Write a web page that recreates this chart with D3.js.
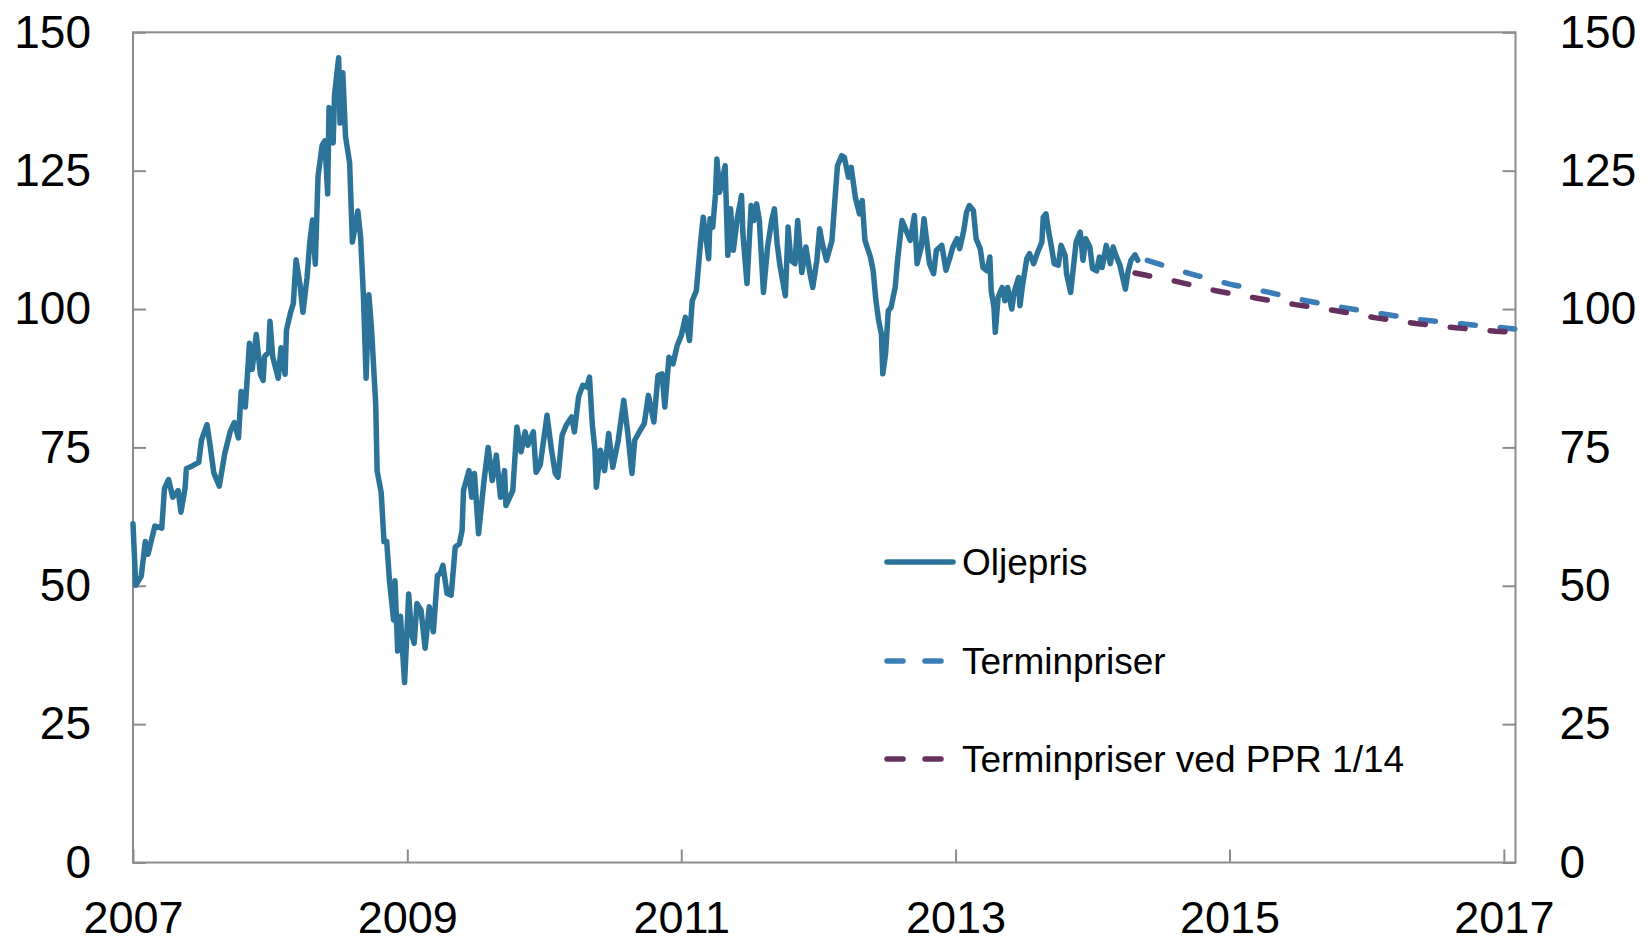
<!DOCTYPE html>
<html>
<head>
<meta charset="utf-8">
<script src="https://cdn.jsdelivr.net/npm/d3@7"></script>
<style>
  html, body { margin: 0; padding: 0; background: #fff; }
  svg { display: block; font-family: Arial, "Liberation Sans", sans-serif; }
</style>
</head>
<body>
<svg id="chart"></svg>
<script>
// oil price (USD per barrel), decimal years
const oilYears = [
  2007.00, 2007.02, 2007.06, 2007.09, 2007.11, 2007.14, 2007.16, 2007.21, 2007.23, 2007.26,
  2007.29, 2007.33, 2007.35, 2007.38, 2007.39, 2007.43, 2007.48, 2007.50, 2007.54, 2007.56,
  2007.59, 2007.63, 2007.67, 2007.71, 2007.74, 2007.77, 2007.79, 2007.82, 2007.84, 2007.85,
  2007.87, 2007.90, 2007.93, 2007.95, 2007.96, 2007.99, 2008.00, 2008.02, 2008.06, 2008.08,
  2008.11, 2008.12, 2008.15, 2008.17, 2008.19, 2008.22, 2008.24, 2008.27, 2008.29, 2008.31,
  2008.33, 2008.35, 2008.38, 2008.40, 2008.42, 2008.43, 2008.46, 2008.47, 2008.50, 2008.51,
  2008.53, 2008.55, 2008.58, 2008.60, 2008.64, 2008.66, 2008.68, 2008.70, 2008.72, 2008.74,
  2008.77, 2008.78, 2008.81, 2008.83, 2008.85, 2008.87, 2008.90, 2008.91, 2008.93, 2008.95,
  2008.98, 2009.01, 2009.03, 2009.05, 2009.07, 2009.10, 2009.13, 2009.16, 2009.19, 2009.22,
  2009.24, 2009.26, 2009.29, 2009.32, 2009.35, 2009.38, 2009.40, 2009.41, 2009.45, 2009.47,
  2009.49, 2009.52, 2009.56, 2009.59, 2009.62, 2009.65, 2009.68, 2009.71, 2009.72, 2009.77,
  2009.80, 2009.83, 2009.86, 2009.88, 2009.92, 2009.94, 2009.97, 2010.02, 2010.05, 2010.08,
  2010.10, 2010.13, 2010.16, 2010.20, 2010.22, 2010.25, 2010.28, 2010.31, 2010.33, 2010.35,
  2010.37, 2010.38, 2010.41, 2010.44, 2010.47, 2010.50, 2010.54, 2010.58, 2010.61, 2010.64,
  2010.66, 2010.70, 2010.73, 2010.76, 2010.80, 2010.83, 2010.86, 2010.88, 2010.91, 2010.94,
  2010.97, 2011.00, 2011.03, 2011.06, 2011.08, 2011.11, 2011.14, 2011.16, 2011.18, 2011.20,
  2011.21, 2011.23, 2011.25, 2011.26, 2011.28, 2011.32, 2011.34, 2011.36, 2011.38, 2011.41,
  2011.44, 2011.45, 2011.48, 2011.51, 2011.53, 2011.55, 2011.57, 2011.60, 2011.63, 2011.66,
  2011.68, 2011.70, 2011.72, 2011.76, 2011.78, 2011.80, 2011.83, 2011.85, 2011.88, 2011.91,
  2011.94, 2011.96, 2011.99, 2012.01, 2012.03, 2012.06, 2012.10, 2012.12, 2012.14, 2012.17,
  2012.19, 2012.22, 2012.24, 2012.27, 2012.30, 2012.32, 2012.34, 2012.38, 2012.40, 2012.42,
  2012.44, 2012.46, 2012.47, 2012.49, 2012.51, 2012.53, 2012.56, 2012.58, 2012.61, 2012.64,
  2012.67, 2012.70, 2012.72, 2012.75, 2012.77, 2012.81, 2012.84, 2012.86, 2012.90, 2012.93,
  2012.96, 2012.98, 2013.01, 2013.03, 2013.06, 2013.08, 2013.10, 2013.13, 2013.15, 2013.18,
  2013.20, 2013.23, 2013.25, 2013.26, 2013.28, 2013.29, 2013.31, 2013.34, 2013.36, 2013.38,
  2013.41, 2013.43, 2013.46, 2013.47, 2013.49, 2013.52, 2013.54, 2013.57, 2013.60, 2013.63,
  2013.64, 2013.66, 2013.68, 2013.70, 2013.72, 2013.75, 2013.77, 2013.80, 2013.81, 2013.84,
  2013.86, 2013.88, 2013.91, 2013.93, 2013.95, 2013.98, 2014.00, 2014.03, 2014.05, 2014.07,
  2014.10, 2014.13, 2014.15, 2014.17, 2014.20, 2014.22, 2014.24, 2014.26, 2014.28, 2014.31,
  2014.33
];
const oilPrices = [
  61.2, 50.1, 51.7, 58.0, 55.7, 58.8, 60.8, 60.4, 67.6, 69.2,
  66.0, 67.2, 63.3, 67.6, 71.2, 71.6, 72.3, 76.3, 79.1, 75.9,
  70.4, 68.0, 73.9, 77.9, 79.5, 76.7, 85.1, 82.3, 89.8, 93.8,
  89.1, 95.4, 88.2, 87.1, 91.4, 92.2, 97.8, 91.4, 87.5, 93.0,
  88.2, 96.2, 99.4, 101.0, 108.9, 104.2, 99.4, 105.7, 112.1, 116.1,
  108.1, 124.0, 129.6, 130.4, 120.8, 136.4, 130.0, 138.7, 145.4, 133.6,
  142.7, 131.2, 126.4, 112.1, 117.7, 112.9, 102.6, 87.5, 102.6, 96.2,
  82.7, 70.8, 66.8, 58.0, 58.0, 50.9, 43.8, 50.9, 38.2, 44.5,
  32.5, 48.5, 41.4, 39.6, 46.8, 45.6, 38.7, 46.2, 41.7, 51.9,
  52.2, 53.7, 48.6, 48.3, 57.0, 57.6, 60.0, 67.2, 70.8, 66.0,
  70.3, 59.4, 69.0, 75.0, 69.0, 73.6, 66.0, 70.8, 64.5, 67.2,
  78.7, 74.2, 77.8, 75.4, 77.8, 70.5, 71.8, 80.8, 75.0, 70.3,
  69.6, 77.2, 79.0, 80.5, 77.8, 84.1, 86.2, 85.9, 87.7, 79.3,
  74.5, 67.8, 74.5, 70.8, 77.5, 71.4, 76.3, 83.5, 77.5, 70.3,
  76.3, 78.1, 79.3, 84.4, 79.6, 88.0, 88.3, 82.3, 91.3, 90.1,
  93.4, 95.2, 98.5, 94.3, 101.5, 103.3, 111.8, 116.6, 113.0, 109.1,
  116.3, 114.8, 120.8, 127.1, 121.1, 125.9, 109.7, 118.1, 110.6, 116.6,
  120.5, 113.6, 104.6, 118.7, 116.0, 119.0, 116.0, 103.0, 111.2, 116.0,
  118.1, 111.8, 107.9, 102.4, 114.8, 108.8, 108.2, 116.0, 106.6, 111.2,
  106.4, 103.9, 108.8, 114.5, 111.8, 108.8, 112.4, 119.3, 125.9, 127.7,
  127.4, 123.8, 125.6, 120.2, 117.2, 119.6, 112.4, 109.4, 106.9, 101.5,
  97.9, 95.5, 88.3, 91.9, 99.7, 100.3, 103.9, 109.4, 116.0, 114.2,
  112.4, 116.9, 108.2, 111.2, 116.3, 108.2, 106.4, 110.6, 111.5, 107.0,
  109.4, 111.2, 112.7, 110.9, 114.2, 117.5, 118.7, 117.8, 112.7, 110.9,
  107.5, 106.9, 109.4, 103.3, 100.3, 95.8, 102.1, 103.9, 101.5, 103.9,
  100.0, 103.3, 105.7, 100.6, 104.5, 109.1, 110.0, 108.2, 110.3, 112.1,
  116.6, 117.2, 113.9, 111.2, 108.2, 107.9, 111.5, 109.7, 106.4, 103.0,
  107.5, 112.1, 113.9, 108.8, 112.7, 111.2, 107.3, 106.9, 109.4, 107.5,
  111.5, 108.2, 111.2, 109.7, 107.9, 105.7, 103.6, 106.9, 108.8, 109.8,
  108.8
];

// forward prices now
const futYears  = [2014.40, 2014.71, 2015.00, 2015.29, 2015.56, 2015.82, 2016.12, 2016.41, 2016.70, 2017.08];
const futPrices = [108.8, 106.4, 104.5, 103.0, 101.5, 100.3, 99.1, 98.0, 97.3, 96.4];

// forward prices at PPR 1/14
const pprYears  = [2014.31, 2014.61, 2014.90, 2015.19, 2015.48, 2015.78, 2016.07, 2016.36, 2016.65, 2016.94, 2017.08];
const pprPrices = [106.5, 105.0, 103.3, 102.0, 100.8, 99.7, 98.4, 97.4, 96.6, 96.0, 95.8];

const yTicks = [0, 25, 50, 75, 100, 125, 150];
const xTickYears = [2007, 2009, 2011, 2013, 2015, 2017];
const legendLabels = ['Oljepris', 'Terminpriser', 'Terminpriser ved PPR 1/14'];

// layout
const W = 1652, H = 942;
const plotL = 133, plotR = 1515.5, plotT = 32.3, plotB = 862.5;
const colOil = '#2b7398', colFut = '#3a7db7', colPpr = '#66305f';
const axisCol = '#8c8c8c';

const toDate = t => {
  const yr = Math.floor(t);
  const s = Date.UTC(yr, 0, 1), e = Date.UTC(yr + 1, 0, 1);
  return new Date(s + (t - yr) * (e - s));
};

const svg = d3.select('#chart').attr('width', W).attr('height', H);

const x = d3.scaleUtc().domain([toDate(2007), toDate(2017.085)]).range([plotL, plotR]);
const y = d3.scaleLinear().domain([0, 150]).range([plotB, plotT]);

const series = (ys, vs) => ys.map((t, i) => ({ date: toDate(t), v: vs[i] }));
const line = d3.line().x(d => x(d.date)).y(d => y(d.v));

// frame
svg.append('rect')
  .attr('x', plotL).attr('y', plotT)
  .attr('width', plotR - plotL).attr('height', plotB - plotT)
  .attr('fill', 'none').attr('stroke', axisCol).attr('stroke-width', 2);

// axes
const styleAxis = (g, size) => {
  g.select('.domain').remove();
  g.selectAll('.tick line').attr('stroke', axisCol).attr('stroke-width', 2);
  g.selectAll('.tick text').attr('fill', '#000').style('font-size', size + 'px')
    .style('font-family', 'Arial, "Liberation Sans", sans-serif');
};

svg.append('g')
  .attr('transform', `translate(${plotL},0)`)
  .call(d3.axisLeft(y).tickValues(yTicks).tickSizeInner(-13).tickSizeOuter(0).tickPadding(42))
  .call(styleAxis, 46);

svg.append('g')
  .attr('transform', `translate(${plotR},0)`)
  .call(d3.axisRight(y).tickValues(yTicks).tickSizeInner(-13).tickSizeOuter(0).tickPadding(44))
  .call(styleAxis, 46);

const xAxisG = svg.append('g')
  .attr('transform', `translate(0,${plotB})`)
  .call(d3.axisBottom(x).tickValues(xTickYears.map(toDate)).tickFormat(d3.utcFormat('%Y'))
    .tickSizeInner(-13).tickSizeOuter(0).tickPadding(0))
  .call(styleAxis, 45);
// place year labels by baseline so they sit inside the picture
xAxisG.selectAll('.tick text').attr('dy', null).attr('y', 70);

// lines
svg.append('path').datum(series(futYears, futPrices))
  .attr('d', line).attr('fill', 'none').attr('stroke', colFut)
  .attr('stroke-width', 5.5).attr('stroke-linecap', 'round').attr('stroke-dasharray', '15,25');

svg.append('path').datum(series(pprYears, pprPrices))
  .attr('d', line).attr('fill', 'none').attr('stroke', colPpr)
  .attr('stroke-width', 5.5).attr('stroke-linecap', 'round').attr('stroke-dasharray', '15,25');

svg.append('path').datum(series(oilYears, oilPrices))
  .attr('d', line).attr('fill', 'none').attr('stroke', colOil)
  .attr('stroke-width', 5.5).attr('stroke-linejoin', 'round').attr('stroke-linecap', 'round');

// legend
const legRows = [562, 661, 759];
const legCols = [colOil, colFut, colPpr];
const legend = svg.append('g');
legendLabels.forEach((lab, i) => {
  legend.append('line')
    .attr('x1', 887).attr('x2', 953).attr('y1', legRows[i]).attr('y2', legRows[i])
    .attr('stroke', legCols[i]).attr('stroke-width', 5.5).attr('stroke-linecap', 'round')
    .attr('stroke-dasharray', i === 0 ? null : '16,22');
  legend.append('text')
    .attr('x', 962).attr('y', legRows[i]).attr('dy', '0.36em')
    .style('font-size', '37px').attr('fill', '#000')
    .text(lab);
});
</script>
</body>
</html>
